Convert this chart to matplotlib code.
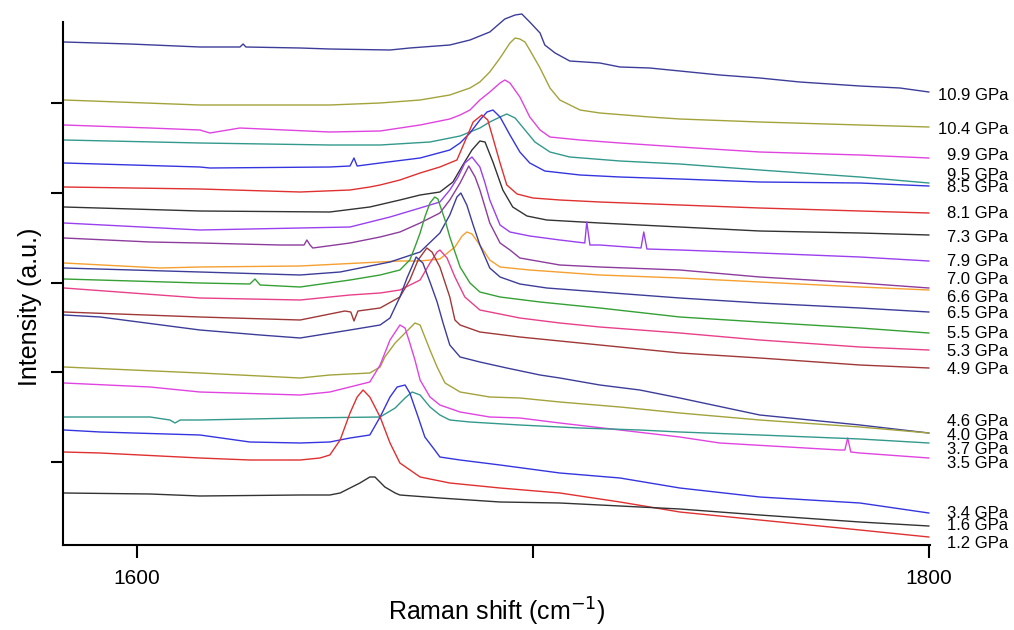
import matplotlib
matplotlib.use("Agg")
import matplotlib.pyplot as plt
import matplotlib.transforms as mtransforms

plt.rcParams['font.family'] = ['Liberation Sans', 'DejaVu Sans']

# ---------------- data (Raman shift in cm^-1, intensity in a.u.) ----------------
x_a = [1581.6,1598.2,1615.9,1626.0,1626.8,1627.5,1641.2,1648.7,1663.9,1668.9,1679.0,1684.1,1689.1,1692.9,1695.5,1697.2,1699.2,1701.8,1703.0,1705.6,1709.3,1716.9,1722.0,1729.5,1737.1,1747.2,1757.3,1767.4,1782.6,1792.7,1800.0]
y_a = [503,501,498,498,501,498,497,496,495,497,500,505,513,526,530,531,523,512,500,492,484,482,478,477,474,470,467,463,459,457,453]

x_b = [1581.6,1615.9,1648.7,1661.4,1671.5,1679.0,1684.1,1686.6,1689.1,1691.7,1694.2,1695.5,1696.7,1698.0,1699.2,1701.8,1704.3,1706.8,1711.9,1716.9,1729.5,1737.1,1757.3,1782.6,1800.0]
y_b = [445,440,440,442,445,450,457,463,473,487,502,507,506,503,495,477,457,445,435,432,428,426,423,420,418]

x_c = [1581.6,1603.3,1615.9,1618.4,1626.0,1648.7,1661.4,1671.5,1679.0,1681.6,1684.1,1686.6,1689.1,1691.7,1692.9,1694.2,1696.7,1699.2,1701.8,1704.3,1711.9,1722.0,1737.1,1757.3,1782.6,1800.0]
y_c = [420,417,415,412,417,413,414,420,426,430,435,445,453,462,465,462,448,428,415,408,405,402,398,393,390,387]

x_d = [1581.6,1615.9,1648.7,1661.4,1674.0,1681.6,1686.6,1689.1,1691.7,1693.4,1695.5,1698.0,1700.5,1704.3,1709.3,1722.0,1737.1,1747.2,1757.3,1782.6,1800.0]
y_d = [405,402,400,400,403,409,417,423,428,431,427,415,403,393,388,384,381,378,375,368,362]

x_e = [1581.6,1615.9,1618.4,1648.7,1653.8,1654.8,1655.6,1661.4,1671.5,1679.0,1681.6,1684.1,1686.6,1688.4,1689.9,1691.7,1694.2,1696.7,1699.2,1703.0,1711.9,1722.0,1737.1,1757.3,1782.6,1800.0]
y_e = [382,378,377,378,379,387,379,382,387,395,402,412,425,433,435,428,410,393,382,374,370,368,366,363,362,359]

x_f = [1581.6,1615.9,1641.2,1653.8,1658.8,1661.4,1666.4,1671.5,1676.5,1680.8,1683.3,1684.9,1687.1,1688.6,1689.9,1691.7,1693.4,1696.0,1700.0,1706.8,1716.9,1737.1,1757.3,1782.6,1800.0]
y_f = [358,356,353,355,358,360,365,372,378,385,408,423,430,425,407,382,360,351,347,345,343,340,337,334,332]

x_g = [1581.6,1615.9,1648.7,1658.8,1666.4,1671.5,1676.5,1679.8,1682.3,1684.6,1686.6,1687.9,1689.9,1692.4,1694.9,1698.5,1703.5,1716.9,1737.1,1757.3,1782.6,1800.0]
y_g = [338,334,333,338,345,350,353,363,380,395,404,403,383,355,338,329,325,322,318,314,312,310]

x_h = [1581.6,1615.9,1653.8,1663.9,1671.5,1676.5,1679.0,1681.1,1682.8,1684.6,1686.6,1687.9,1689.1,1691.7,1694.2,1699.2,1706.8,1713.1,1713.6,1714.4,1716.9,1727.3,1728.0,1728.8,1737.1,1757.3,1782.6,1800.0]
y_h = [322,315,318,328,337,343,355,368,382,388,378,362,345,320,313,309,305,302,323,300,300,297,313,296,295,292,288,284]

x_i = [1581.6,1603.3,1615.9,1636.1,1642.2,1642.9,1643.7,1644.4,1653.8,1661.4,1666.4,1671.5,1676.5,1679.0,1681.6,1683.8,1685.4,1686.6,1687.9,1689.1,1691.7,1694.2,1696.7,1706.8,1716.9,1737.1,1757.3,1782.6,1800.0]
y_i = [307,303,302,300,300,305,300,297,302,308,313,322,332,345,362,379,368,355,338,322,302,295,287,280,278,275,268,262,257]

x_j = [1581.6,1605.8,1615.9,1641.2,1656.3,1666.4,1671.5,1676.5,1680.3,1682.1,1683.3,1684.6,1686.6,1689.1,1691.7,1699.2,1716.9,1737.1,1757.3,1782.6,1800.0]
y_j = [282,277,278,279,282,284,284,286,298,309,313,311,300,285,278,275,270,267,263,258,255]

x_k = [1581.6,1615.9,1641.2,1651.3,1663.9,1671.5,1676.5,1679.0,1680.8,1681.8,1683.3,1684.9,1686.6,1689.1,1691.7,1696.7,1703.5,1716.9,1737.1,1757.3,1782.6,1800.0]
y_k = [277,273,270,273,283,293,312,330,348,352,340,320,300,277,268,261,257,253,247,242,237,233]

x_l = [1581.6,1615.9,1628.5,1629.8,1631.1,1641.2,1653.8,1661.4,1666.4,1668.9,1670.2,1671.5,1672.7,1674.0,1675.2,1676.0,1676.5,1677.8,1679.0,1681.6,1684.1,1686.6,1691.7,1701.8,1716.9,1737.1,1757.3,1782.6,1800.0]
y_l = [266,262,261,266,260,258,265,270,275,285,298,312,328,342,348,346,340,325,308,278,262,253,248,243,237,228,223,217,212]

x_m = [1581.6,1615.9,1641.2,1653.8,1661.4,1666.4,1671.5,1674.0,1675.8,1676.5,1678.3,1680.3,1682.8,1686.6,1696.7,1706.8,1716.9,1737.1,1757.3,1782.6,1800.0]
y_m = [257,247,245,250,252,255,265,282,293,295,287,268,248,235,227,222,218,212,205,198,195]

x_n = [1581.6,1615.9,1641.2,1652.5,1654.0,1654.8,1655.8,1661.4,1666.4,1668.9,1671.0,1673.2,1674.5,1676.5,1679.0,1680.3,1681.6,1686.6,1696.7,1716.9,1737.1,1757.3,1782.6,1800.0]
y_n = [233,228,225,234,233,224,234,237,248,265,285,297,293,278,248,225,220,213,208,200,192,187,180,177]

x_o = [1581.6,1590.7,1615.9,1631.1,1641.2,1653.8,1661.4,1663.9,1666.4,1668.2,1670.5,1672.2,1674.0,1675.8,1677.3,1679.0,1681.6,1686.6,1693.4,1701.8,1706.8,1716.9,1727.0,1737.1,1757.3,1782.6,1800.0]
y_o = [230,228,215,210,207,215,220,227,248,267,288,282,263,243,222,200,188,183,177,170,167,160,155,147,130,120,112]

x_p = [1581.6,1615.9,1641.2,1648.7,1658.8,1661.4,1662.6,1665.2,1667.7,1670.2,1671.5,1672.7,1674.0,1675.8,1677.8,1681.6,1689.1,1696.7,1706.8,1722.0,1737.1,1757.3,1782.6,1800.0]
y_p = [178,172,167,170,172,178,188,202,212,222,220,208,195,178,162,153,148,147,143,138,132,125,118,112]

x_q = [1581.6,1603.3,1615.9,1641.2,1648.7,1658.8,1661.4,1663.9,1666.4,1667.7,1668.9,1670.2,1671.5,1674.0,1676.5,1681.6,1689.1,1696.7,1706.8,1722.0,1737.1,1747.2,1777.5,1778.8,1779.5,1780.3,1782.6,1800.0]
y_q = [162,158,153,150,153,163,180,205,220,217,202,185,165,148,140,133,128,127,122,115,108,102,95,95,107,93,92,87]

x_r = [1581.6,1603.3,1608.3,1609.6,1610.9,1615.9,1641.2,1661.4,1665.2,1667.7,1669.5,1671.5,1674.0,1676.5,1679.0,1684.1,1696.7,1711.9,1727.0,1737.1,1757.3,1782.6,1800.0]
y_r = [128,128,125,122,125,125,127,128,137,147,153,150,138,130,125,123,120,117,115,113,110,106,102]

x_s = [1581.6,1590.7,1615.9,1628.5,1641.2,1648.7,1653.8,1658.8,1661.4,1663.9,1665.7,1667.7,1668.9,1671.0,1672.7,1675.2,1676.5,1681.6,1691.7,1706.8,1722.0,1737.1,1757.3,1782.6,1800.0]
y_s = [115,113,110,103,102,103,107,110,128,148,158,160,152,128,108,95,88,85,80,72,67,57,48,42,32]

x_t = [1581.6,1590.7,1615.9,1628.5,1641.2,1646.2,1648.7,1651.3,1653.8,1655.6,1657.1,1658.8,1661.4,1663.9,1666.4,1671.5,1679.0,1691.7,1706.8,1722.0,1737.1,1757.3,1782.6,1800.0]
y_t = [93,92,87,85,85,87,90,105,132,148,155,148,128,102,82,68,62,57,52,43,33,25,15,8]

x_u = [1581.6,1603.3,1615.9,1641.2,1648.7,1651.3,1653.8,1656.3,1658.8,1660.1,1662.6,1665.2,1666.4,1676.5,1691.7,1706.8,1722.0,1737.1,1757.3,1782.6,1800.0]
y_u = [52,51,49,50,50,52,57,62,68,68,58,52,50,47,43,42,39,36,30,23,19]

# pressure labels (top to bottom) and their vertical positions (a.u.)
labels = ['10.9 GPa', '10.4 GPa', '9.9 GPa', '9.5 GPa', '8.5 GPa', '8.1 GPa', '7.3 GPa',
          '7.9 GPa', '7.0 GPa', '6.6 GPa', '6.5 GPa', '5.5 GPa', '5.3 GPa', '4.9 GPa',
          '4.6 GPa', '4.0 GPa', '3.7 GPa', '3.5 GPa', '3.4 GPa', '1.6 GPa', '1.2 GPa']
label_y = [450, 415, 390, 370, 358, 332, 308, 284, 265, 248, 232, 211, 194, 176,
           124, 109, 95, 81, 32, 19, 2]

xticks = [1600, 1700, 1800]
xticklabels = ['1600', '', '1800']
yticks = [83, 173, 262, 352, 442]

series = [
    (x_a, y_a, '#3d3d99'), (x_b, y_b, '#a3a33c'), (x_c, y_c, '#e044e0'),
    (x_d, y_d, '#33998c'), (x_e, y_e, '#3535e0'), (x_f, y_f, '#e03030'),
    (x_g, y_g, '#333333'), (x_h, y_h, '#9a40ee'), (x_i, y_i, '#8c3c9c'),
    (x_j, y_j, '#f5a030'), (x_k, y_k, '#3d3d99'), (x_l, y_l, '#35a035'),
    (x_m, y_m, '#e8408a'), (x_n, y_n, '#a03838'), (x_o, y_o, '#3d3d99'),
    (x_p, y_p, '#a3a33c'), (x_q, y_q, '#e044e0'), (x_r, y_r, '#33998c'),
    (x_s, y_s, '#3535e0'), (x_t, y_t, '#e03030'), (x_u, y_u, '#333333'),
]

# ---------------- figure ----------------
fig = plt.figure(figsize=(10.14, 6.30), dpi=100)
ax = fig.add_axes([63/1014, 85/630, 867/1014, 523/630])

for xs, ys, col in series:
    ax.plot(xs, ys, color=col, lw=1.0, solid_joinstyle='round', clip_on=False)

ax.set_xlim(1581.3, 1800.3)
ax.set_ylim(0, 523)
ax.set_xticks(xticks)
ax.set_xticklabels(xticklabels, fontsize=15)
ax.set_yticks(yticks)
ax.set_yticklabels([])
ax.tick_params(axis='both', direction='out', length=9, width=1.5, pad=8)
for s in ['top', 'right']:
    ax.spines[s].set_visible(False)
for s in ['left', 'bottom']:
    ax.spines[s].set_linewidth(1.5)

ax.set_xlabel('Raman shift (cm$^{-1}$)', fontsize=18)
ax.xaxis.label.set_va('center')
ax.xaxis.set_label_coords(0.5, -0.128)
ax.set_ylabel('Intensity (a.u.)', fontsize=18)
ax.yaxis.label.set_va('center')
ax.yaxis.set_label_coords(-0.038, 0.455)

trans = mtransforms.blended_transform_factory(fig.transFigure, ax.transData)
for lab, ly in zip(labels, label_y):
    ax.text(1008/1014, ly, lab, transform=trans, ha='right', va='center',
            fontsize=12, clip_on=False)

fig.savefig('out.png', dpi=100)
